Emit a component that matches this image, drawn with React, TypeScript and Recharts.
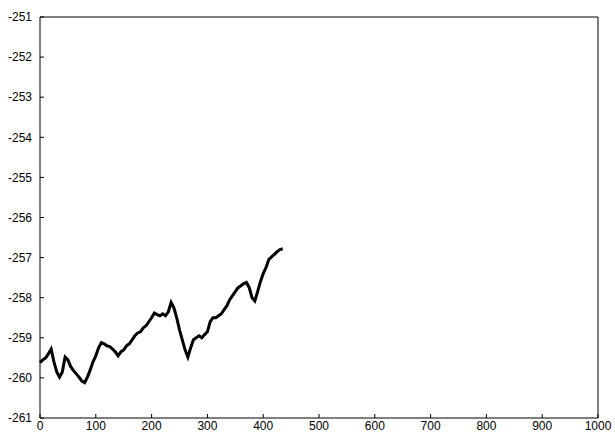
import { LineChart, Line, XAxis, YAxis } from "recharts";

// sample positions (x) and readings (y)
const xs = [
  0, 5, 10, 15, 20, 25, 30, 35, 40, 45, 50, 55, 60, 65, 70, 75, 80, 85, 90, 95,
  100, 105, 110, 115, 120, 125, 130, 135, 140, 145, 150, 155, 160, 165, 170, 175,
  180, 185, 190, 195, 200, 205, 210, 215, 220, 225, 230, 235, 240, 245, 250, 255,
  260, 265, 270, 275, 280, 285, 290, 295, 300, 305, 310, 315, 320, 325, 330, 335,
  340, 345, 350, 355, 360, 365, 370, 375, 380, 385, 390, 395, 400, 405, 410, 415,
  420, 425, 430, 435,
];
const ys = [
  -259.62, -259.55, -259.5, -259.4, -259.28, -259.6, -259.85, -259.98, -259.85, -259.48,
  -259.55, -259.72, -259.82, -259.9, -259.98, -260.08, -260.12, -259.98, -259.8, -259.6,
  -259.45, -259.25, -259.12, -259.15, -259.2, -259.22, -259.28, -259.35, -259.45, -259.35,
  -259.3, -259.2, -259.15, -259.05, -258.95, -258.88, -258.85, -258.75, -258.7, -258.6,
  -258.5, -258.38, -258.42, -258.45, -258.4, -258.45, -258.35, -258.12, -258.25, -258.5,
  -258.8, -259.05, -259.3, -259.48, -259.25, -259.05, -259.0, -258.95, -259.0, -258.92,
  -258.85, -258.6, -258.5, -258.5, -258.45, -258.4, -258.3, -258.2, -258.05, -257.95,
  -257.85, -257.75, -257.7, -257.65, -257.62, -257.75, -258.0, -258.08, -257.85, -257.6,
  -257.4, -257.25, -257.05, -256.98, -256.92, -256.85, -256.8, -256.78,
];

const xTicks = [0, 100, 200, 300, 400, 500, 600, 700, 800, 900, 1000];
const yTicks = [-261, -260, -259, -258, -257, -256, -255, -254, -253, -252, -251];

const data = xs.map((x, i) => ({ x, y: ys[i] }));

export default function App() {
  return (
    <div
      style={{
        position: "absolute", left: 0, top: 0, width: 615, height: 434,
        background: "#fff", fontFamily: "'Liberation Sans', Arial, sans-serif",
      }}
    >
      <LineChart width={615} height={434} data={data} margin={{ top: 4, right: 4, bottom: 0, left: 0 }}>
        {/* negative tickSize => ticks point into the plot box; tick text takes the axis stroke colour */}
        <XAxis
          xAxisId="b" dataKey="x" type="number" domain={[0, 1000]} ticks={xTicks}
          interval={0} height={16} tickSize={-4} tickMargin={7} stroke="#000" fontSize={12}
        />
        <XAxis
          xAxisId="t" orientation="top" dataKey="x" type="number" domain={[0, 1000]} ticks={xTicks}
          interval={0} height={13} tickSize={-4} tick={false} stroke="#000"
        />
        <YAxis
          yAxisId="l" type="number" domain={[-261, -251]} ticks={yTicks} interval={0}
          width={40} tickSize={-4} tickMargin={12} stroke="#000" fontSize={12}
        />
        <YAxis
          yAxisId="r" orientation="right" type="number" domain={[-261, -251]} ticks={yTicks} interval={0}
          width={13} tickSize={-4} tick={false} stroke="#000"
        />
        <Line
          xAxisId="b" yAxisId="l" dataKey="y" stroke="#000" strokeWidth={3}
          dot={false} isAnimationActive={false}
        />
      </LineChart>
    </div>
  );
}
